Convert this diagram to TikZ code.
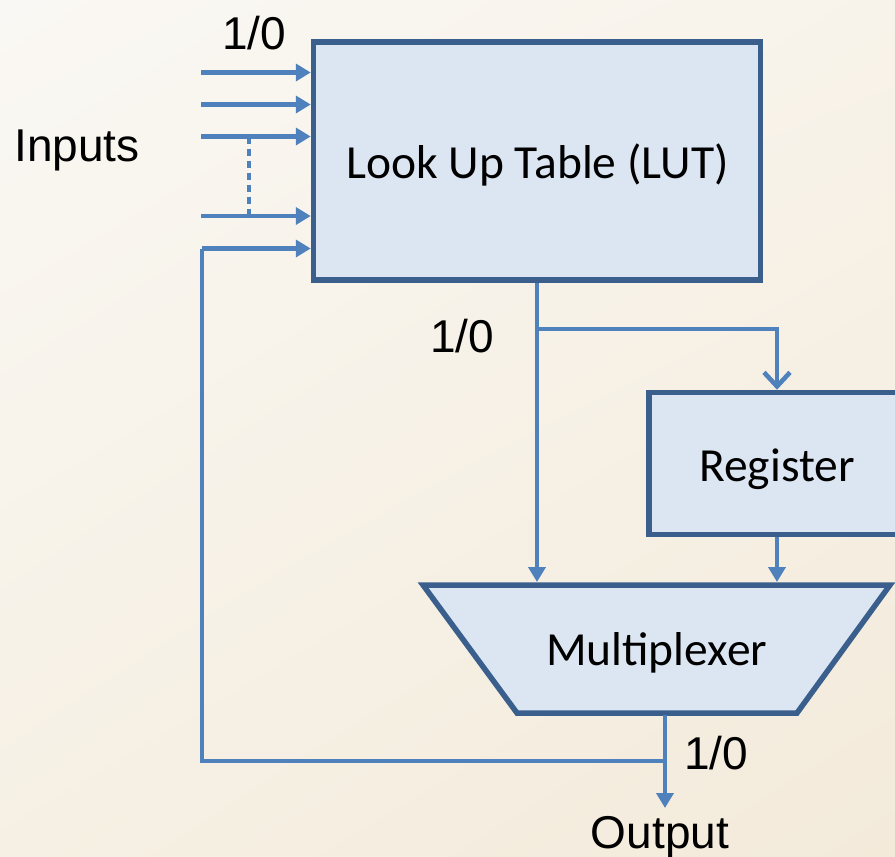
\documentclass[tikz,border=0pt]{standalone}
\usepackage{fontspec}
\setmainfont{Carlito}
\newfontfamily\arialf{Liberation Sans}
\usetikzlibrary{arrows.meta,calc,shadings}
\definecolor{wirec}{HTML}{4F81BD}
\definecolor{edgec}{HTML}{3B5F8D}
\definecolor{boxfill}{HTML}{DCE6F2}
\definecolor{bgA}{HTML}{FAF8F4}
\definecolor{bgB}{HTML}{F8F3EA}
\definecolor{bgC}{HTML}{F6F0E4}
\definecolor{bgD}{HTML}{F3EADA}
\begin{document}
\begin{tikzpicture}[x=1pt,y=-1pt,
  block/.style={draw=edgec, line width=5.5pt, fill=boxfill, inner sep=0pt},
  btext/.style={font=\fontsize{47.5}{57}\selectfont, inner sep=0pt, anchor=base},
  wire/.style={draw=wirec, line width=4.6pt},
  arr/.style={wire, -{Triangle[length=15pt,width=17pt]}},
  lbl/.style={font=\arialf\fontsize{46}{55}\selectfont, inner sep=0pt, anchor=base}]
\useasboundingbox (0,0) rectangle (895,857);
\shade[upper left=bgA, upper right=bgB, lower left=bgC, lower right=bgD] (0,0) rectangle (895,857);
% blocks
\node[block, minimum width=447pt, minimum height=238pt] (lut) at (537,161) {};
\node[btext] (luttxt) at (537.5,178) {Look Up Table (LUT)};
\node[block, minimum width=256pt, minimum height=142pt] (reg) at (777,463.5) {};
\node[btext] (regtxt) at (777,481) {Register};
\draw[block, line join=miter] (423,585) -- (890,585) -- (797,713) -- (517,713) -- cycle;
\node[btext] (mux) at (656.7,665) {Multiplexer};
\coordinate (muxL) at (537,582);
\coordinate (muxR) at (777,582);
\coordinate (muxout) at (665,715);
% inputs
\coordinate (in1) at (201,72.5);
\coordinate (in2) at (201,104.5);
\coordinate (in3) at (201,136.5);
\coordinate (in4) at (201,216);
\coordinate (in5) at (202,248.5);
\foreach \i in {1,2,3,4,5} \draw[arr] (in\i) -- (in\i -| lut.west);
\coordinate (d1) at (249,136.5);
\coordinate (d2) at (249,216);
\draw[wirec, line width=3.8pt, dash pattern=on 7pt off 5pt] (d1) -- (d2);
% LUT output
\coordinate (b) at (537,329);
\draw[arr] (lut.south) -- (muxL);
\draw[wire, line join=miter, -{Straight Barb[length=14pt,width=26pt]}] (b) -| (reg.north);
\draw[arr] (reg.south) -- (muxR);
% output and feedback
\coordinate (j) at (665,761);
\coordinate (outtip) at (665,808);
\draw[arr] (muxout) -- (outtip);
\draw[wire, line join=miter] (j) -- (j -| in5) -- (in5);
% labels
\node[lbl] (l1) at (254,49) {1/0};
\node[lbl] (l2) at (462,352) {1/0};
\node[lbl] (l3) at (716,769) {1/0};
\node[lbl] (inp) at (77,161) {Inputs};
\node[lbl] (outl) at (660,848) {Output};
\end{tikzpicture}
\end{document}
